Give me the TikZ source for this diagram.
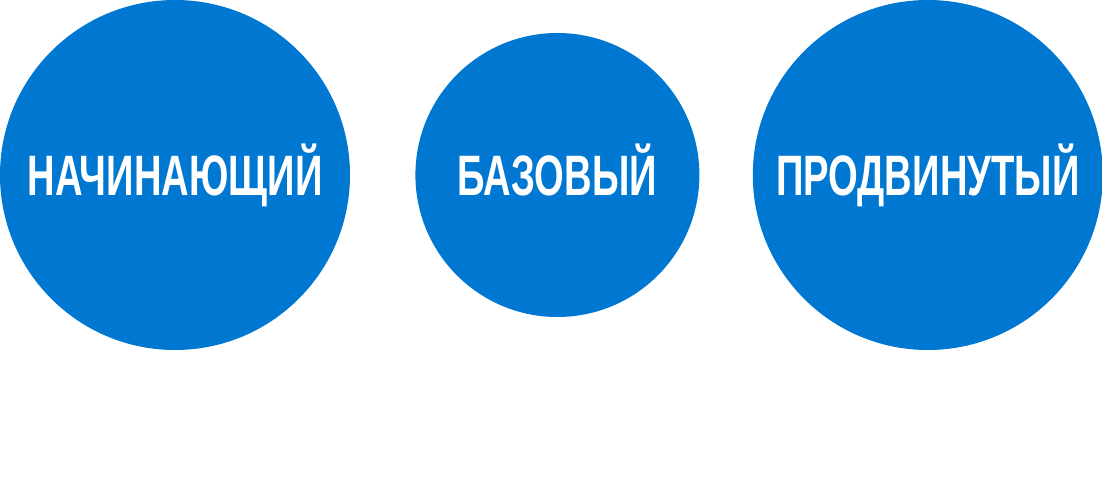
\documentclass[tikz,border=0pt]{standalone}
\usepackage{fontspec}
\setmainfont{Liberation Sans}[FakeStretch=0.67]
\usepackage{tikz}
\usetikzlibrary{positioning}
\definecolor{levelblue}{HTML}{0078D2}
\begin{document}
\begin{tikzpicture}
                [lvl/.style={circle,fill=levelblue,text=white,inner sep=0pt,
                font=\fontsize{57}{60}\selectfont\bfseries,
                text height=41pt,text depth=0pt},
                big/.style={lvl,minimum size=350pt},
                small/.style={lvl,minimum size=284pt}]
                \useasboundingbox (0,0) rectangle (1102pt,-494pt);
                \node[big] (novice) at (175pt,-175pt){НАЧИНАЮЩИЙ};
                \node[small,node distance=65pt] (basic)[right=of novice]{БАЗОВЫЙ};
                \node[big,node distance=53pt] (advanced)[right=of basic]{ПРОДВИНУТЫЙ};
            \end{tikzpicture}
\end{document}
